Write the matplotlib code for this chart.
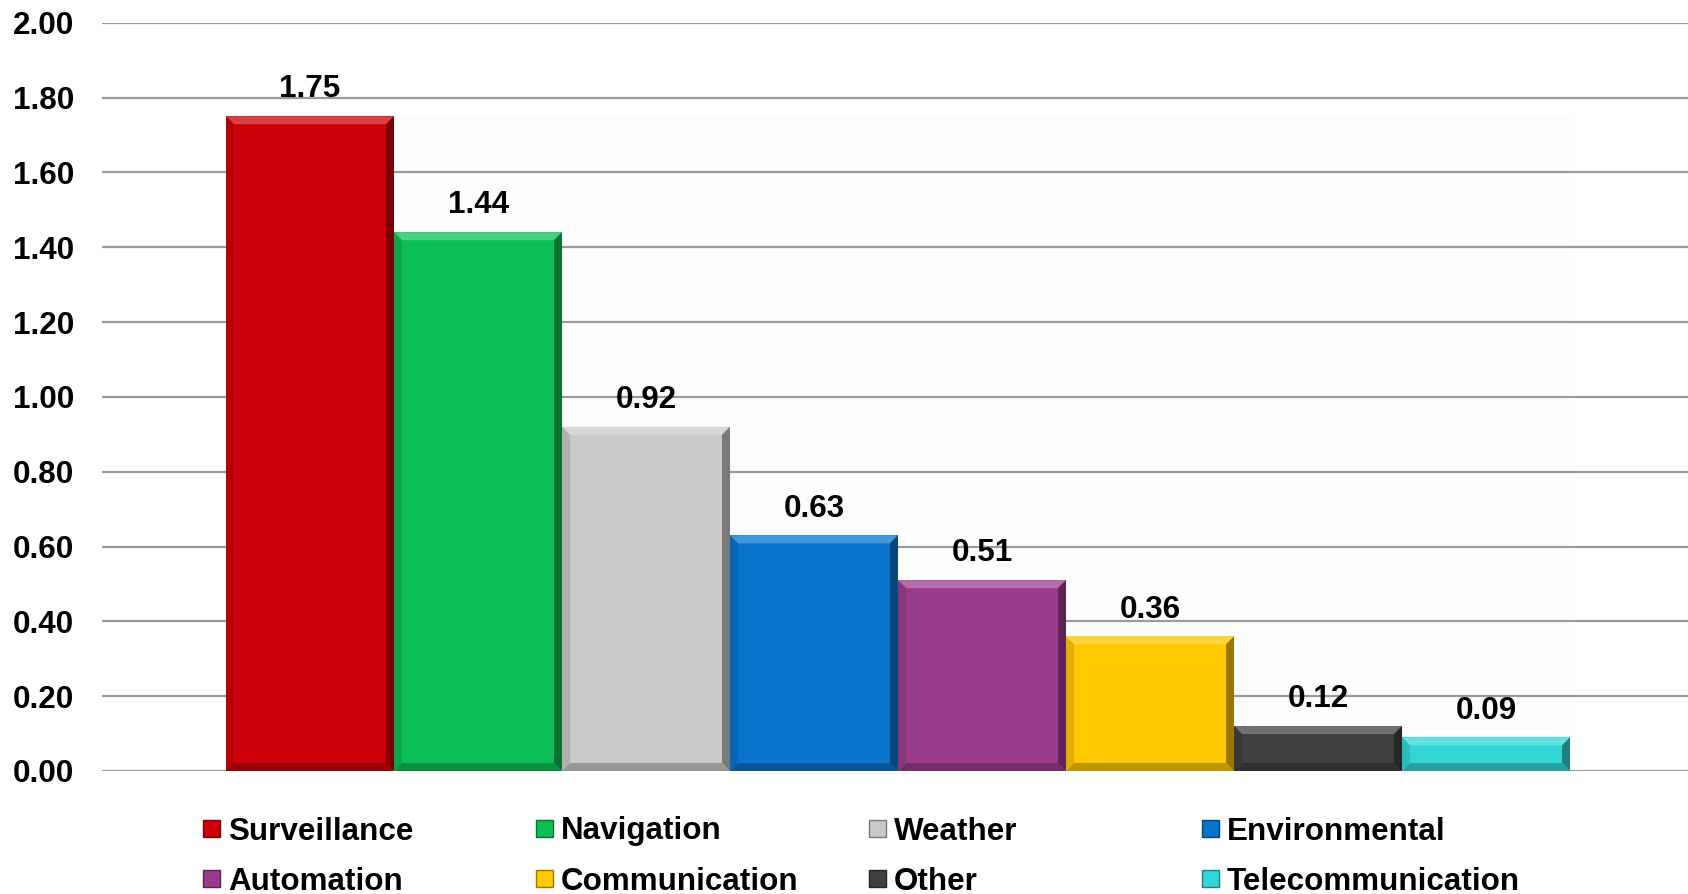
import matplotlib
matplotlib.use("Agg")
import matplotlib.pyplot as plt
from matplotlib.patches import Polygon, Rectangle
from matplotlib.colors import to_rgb
import numpy as np

plt.rcParams['font.family'] = ['Liberation Sans', 'DejaVu Sans']
plt.rcParams['font.weight'] = 'bold'

categories = ["Surveillance", "Navigation", "Weather", "Environmental",
              "Automation", "Communication", "Other", "Telecommunication"]
values = [1.75, 1.44, 0.92, 0.63, 0.51, 0.36, 0.12, 0.09]
colors = ["#CC0006", "#0BBF55", "#C9C9C9", "#0A74CC",
          "#9A3C8C", "#FFC800", "#404040", "#33D6D6"]
yticks = [0.0, 0.2, 0.4, 0.6, 0.8, 1.0, 1.2, 1.4, 1.6, 1.8, 2.0]

FS = 22.6
W, H = 1688, 894
fig = plt.figure(figsize=(W / 100, H / 100), dpi=100)
ax = fig.add_axes([102 / W, 1 - 771 / H, 1 - 102 / W, (771 - 22.7) / H])


def mix(c, other, t):
    c = np.array(to_rgb(c))
    return tuple(c * (1 - t) + np.array(to_rgb(other)) * t)


x = np.arange(len(values))
ax.set_xlim(-1.238, 8.202)
ax.set_ylim(0, 2.0)

# horizontal gridlines only
ax.set_yticks(yticks)
ax.set_yticklabels([f"{v:.2f}" for v in yticks])
ax.yaxis.grid(True, color="#9a9a9a", linewidth=1.6, zorder=0)
ax.set_axisbelow(True)
ax.tick_params(axis="y", length=0, pad=20, labelsize=FS)
ax.set_xticks([])
for s in ax.spines.values():
    s.set_visible(False)

# faint panel behind the bars
ax.fill_between([-0.5, len(values) - 0.5], 0, max(values),
                color="#fdfdfd", zorder=0.5, lw=0)

bars = ax.bar(x, values, width=1.0, color=colors, zorder=2, linewidth=0)

# pixel -> data scale for bevel edges
ax_w = ax.get_position().width * W
ax_h = ax.get_position().height * H
px_x = (ax.get_xlim()[1] - ax.get_xlim()[0]) / ax_w
px_y = (ax.get_ylim()[1] - ax.get_ylim()[0]) / ax_h
bev = 8

for b, c in zip(bars, colors):
    x0, w, h = b.get_x(), b.get_width(), b.get_height()
    x1 = x0 + w
    bx, by = bev * px_x, min(bev * px_y, h / 3)
    faces = [
        ([(x0, h), (x1, h), (x1 - bx, h - by), (x0 + bx, h - by)], mix(c, "white", 0.25)),
        ([(x1, h), (x1, 0), (x1 - bx, by), (x1 - bx, h - by)], mix(c, "black", 0.4)),
        ([(x0, 0), (x1, 0), (x1 - bx, by), (x0 + bx, by)], mix(c, "black", 0.25)),
        ([(x0, 0), (x0, h), (x0 + bx, h - by), (x0 + bx, by)], mix(c, "black", 0.12)),
    ]
    for pts, fc in faces:
        ax.add_patch(Polygon(pts, closed=True, facecolor=fc, edgecolor="none", zorder=3))
    ax.annotate(f"{h:.2f}", (b.get_x() + w / 2, h), xytext=(0, 13.5),
                textcoords="offset points", ha="center", va="baseline",
                fontsize=FS, fontweight="bold", zorder=4)

# legend: 4 columns x 2 rows
for i, (name, c) in enumerate(zip(categories, colors)):
    row, col = divmod(i, 4)
    mx = 203 + col * 333
    my = 828 + row * 50
    sq = 17
    fig.patches.append(Rectangle((mx / W, 1 - (my + sq / 2) / H), sq / W, sq / H,
                                 transform=fig.transFigure, facecolor=c,
                                 edgecolor=mix(c, "black", 0.4), linewidth=1.0))
    fig.text((mx + sq + 8) / W, 1 - my / H, name, ha="left", va="center_baseline",
             fontsize=FS, fontweight="bold")

fig.savefig("out.png", dpi=100, facecolor="white")
